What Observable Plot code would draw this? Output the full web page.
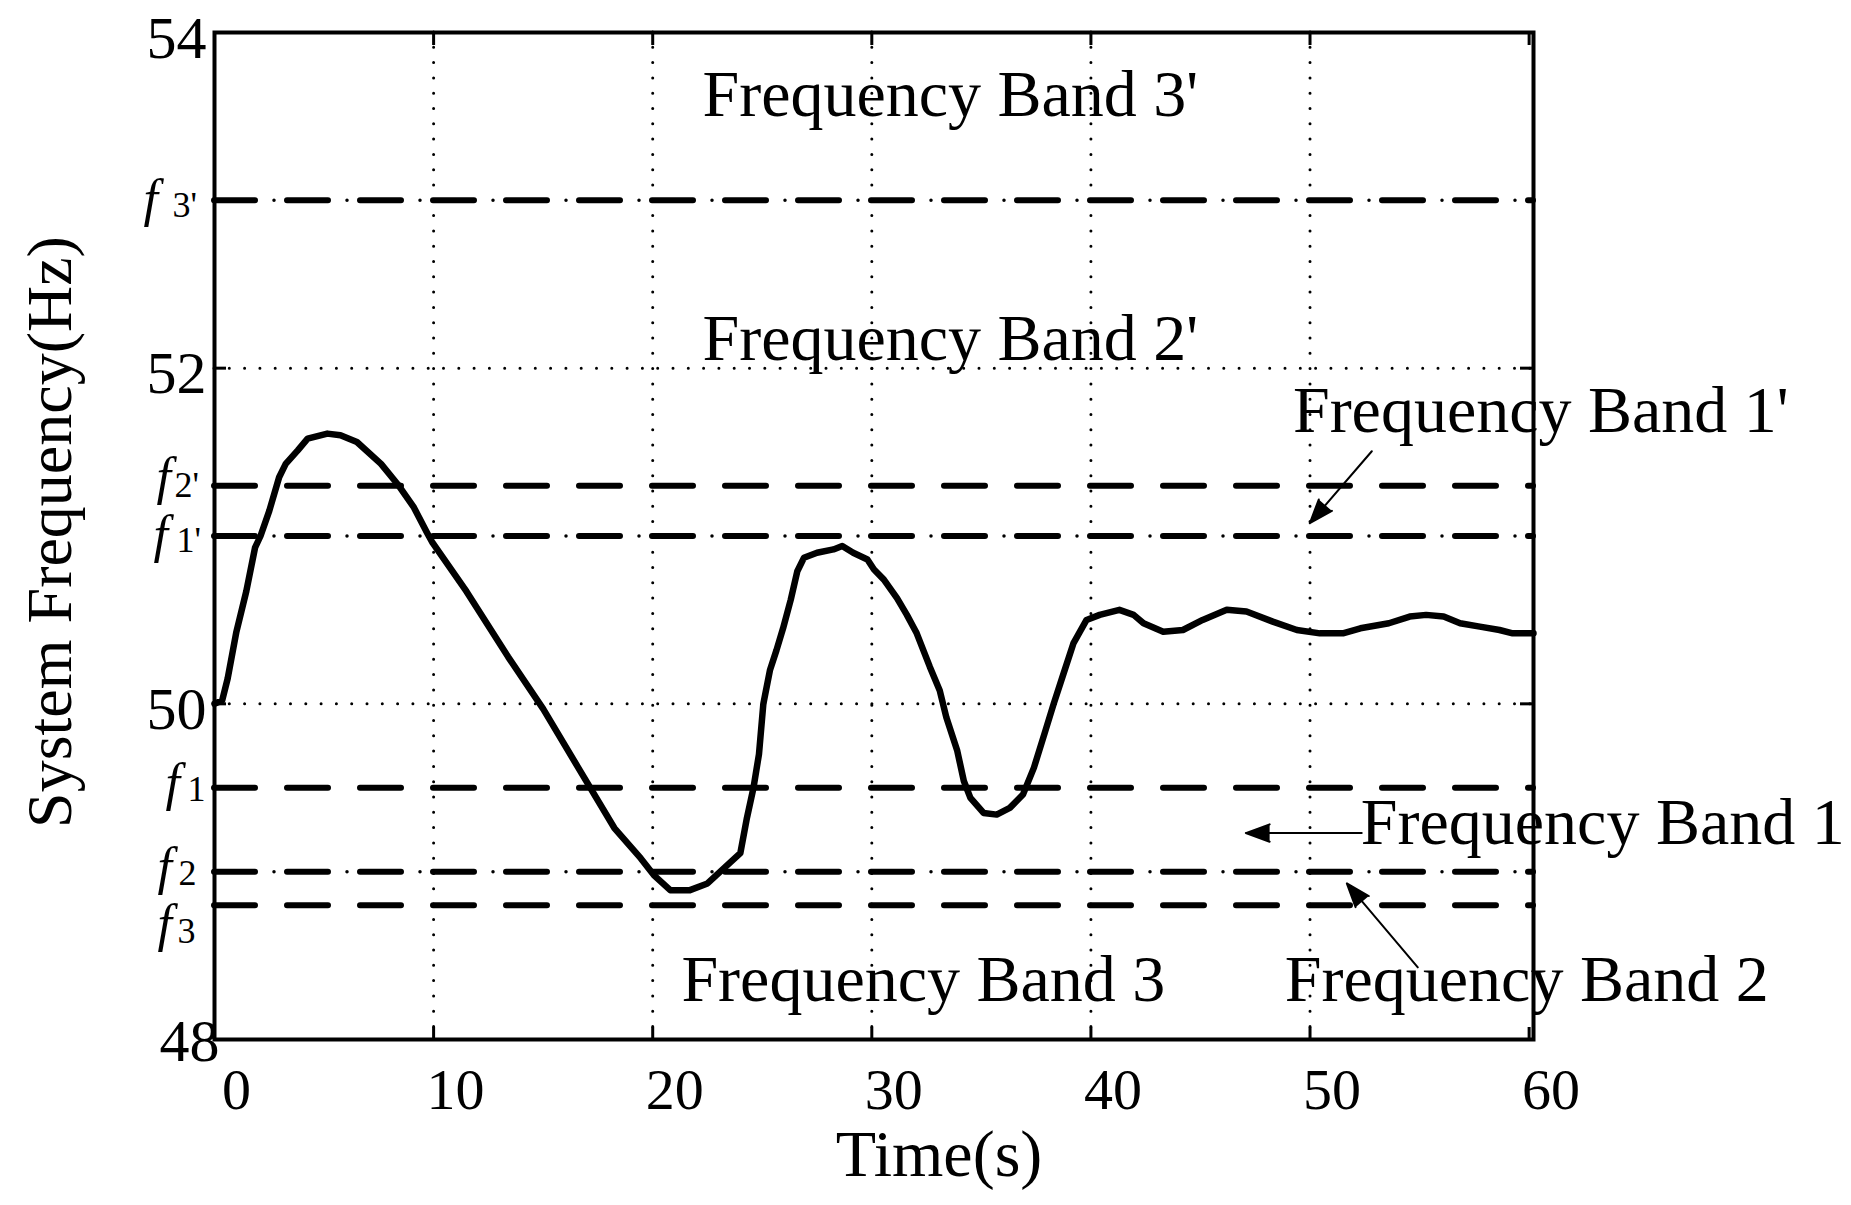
<!DOCTYPE html>
<html><head><meta charset="utf-8">
<script src="https://cdn.jsdelivr.net/npm/d3@7"></script>
<script src="https://cdn.jsdelivr.net/npm/@observablehq/plot@0.6"></script>
<style>
html,body{margin:0;padding:0;background:#fff;}
#chart{width:1851px;height:1205px;}
</style></head><body><div id="chart"></div>
<script>
// ---- data ----
const timeS = [0, 0.35, 0.6, 1.0, 1.45, 1.85, 2.1, 2.5, 2.95, 3.25, 3.8, 4.25, 5.15, 5.75, 6.5, 7.6, 8.35,
  9.1, 9.7, 9.95, 11.5, 13.4, 15.0, 16.6, 18.25, 19.45, 20.05, 20.8, 21.7, 22.5, 24.0, 24.3, 24.6, 24.85,
  25.05, 25.35, 25.65, 25.95, 26.3, 26.6, 26.9, 27.5, 28.25, 28.65, 29.15, 29.8, 30.1, 30.55, 31.15, 31.6,
  32.05, 32.65, 33.1, 33.4, 33.9, 34.2, 34.5, 35.1, 35.7, 36.3, 36.9, 37.4, 37.9, 38.3, 38.75, 39.2, 39.8,
  40.4, 41.3, 41.95, 42.4, 43.3, 44.2, 45.1, 46.2, 47.1, 48.3, 49.4, 50.45, 51.5, 52.3, 53.6, 54.55, 55.3,
  56.1, 56.85, 57.75, 58.65, 59.25, 60.2];
const freqHz = [50.0, 50.02, 50.15, 50.43, 50.67, 50.93, 51.0, 51.15, 51.35, 51.43, 51.51, 51.58, 51.61, 51.60,
  51.56, 51.43, 51.31, 51.17, 51.02, 50.96, 50.67, 50.28, 49.97, 49.62, 49.26, 49.08, 48.98, 48.89, 48.89,
  48.93, 49.11, 49.32, 49.50, 49.70, 50.0, 50.20, 50.32, 50.45, 50.62, 50.79, 50.87, 50.90, 50.92, 50.94,
  50.90, 50.86, 50.80, 50.74, 50.63, 50.53, 50.42, 50.22, 50.08, 49.92, 49.72, 49.54, 49.44, 49.35, 49.34,
  49.38, 49.46, 49.62, 49.83, 50.0, 50.18, 50.36, 50.50, 50.53, 50.56, 50.53, 50.48, 50.43, 50.44, 50.50,
  50.56, 50.55, 50.49, 50.44, 50.42, 50.42, 50.45, 50.48, 50.52, 50.53, 50.52, 50.48, 50.46, 50.44, 50.42, 50.42];

const xTicks = [0, 10, 20, 30, 40, 50, 60];
const yTicks = [48, 50, 52, 54];
const gridTimes = [10, 20, 30, 40, 50];
const gridFreqs = [50, 52];

const dashDotLevels = [53.0, 51.0, 49.0];
const dashDotNames = ["3'", "1'", "2"];
const dashedLevels = [51.3, 49.5, 48.8];
const dashedNames = ["2'", "1", "3"];

const bandLabels = ["Frequency Band 3'", "Frequency Band 2'", "Frequency Band 1'",
  "Frequency Band 1", "Frequency Band 2", "Frequency Band 3"];
const bandLabelTime = [22.27, 22.27, 49.22, 52.32, 48.85, 21.31];
const bandLabelFreq = [53.5, 52.05, 51.62, 49.165, 48.23, 48.23];

const arrowFromTime = [52.82, 52.36, 54.92];
const arrowFromFreq = [51.505, 49.23, 48.43];
const arrowToTime = [49.99, 47.07, 51.68];
const arrowToFreq = [51.076, 49.23, 48.93];

const xLabel = "Time(s)";
const yLabel = "System Frequency(Hz)";

// ---- tables ----
const curve = timeS.map((t, i) => ({t, f: freqHz[i]}));
const fLevels = [
  ...dashDotLevels.map((v, i) => ({v, name: dashDotNames[i]})),
  ...dashedLevels.map((v, i) => ({v, name: dashedNames[i]}))
];
const bands = bandLabels.map((label, i) => ({label, t: bandLabelTime[i], f: bandLabelFreq[i]}));
const arrows = arrowFromTime.map((t, i) => ({t1: t, f1: arrowFromFreq[i], t2: arrowToTime[i], f2: arrowToFreq[i]}));

// ---- styling (pixel offsets of the f-labels left of the frame) ----
const FONT = "Liberation Serif";
const fLabelOffsets = {
  "3'": {fDx: -71, fDy: 16, nDx: -42, nDy: 17},
  "2'": {fDx: -58, fDy: 8,  nDx: -40, nDy: 11},
  "1'": {fDx: -61, fDy: 16, nDx: -38, nDy: 16},
  "1":  {fDx: -49, fDy: 12, nDx: -27, nDy: 13},
  "2":  {fDx: -57, fDy: 12, nDx: -36, nDy: 13},
  "3":  {fDx: -57, fDy: 36, nDx: -37, nDy: 38}
};
const fLabelMarks = fLevels.flatMap(d => {
  const o = fLabelOffsets[d.name];
  return [
    Plot.text([d], {y: "v", text: () => "f", frameAnchor: "left", dx: o.fDx, dy: o.fDy,
      textAnchor: "start", lineAnchor: "bottom", fontSize: 52, fontStyle: "italic"}),
    Plot.text([d], {y: "v", text: "name", frameAnchor: "left", dx: o.nDx, dy: o.nDy,
      textAnchor: "start", lineAnchor: "bottom", fontSize: 36})
  ];
});

const dotted = {stroke: "black", strokeOpacity: 1, strokeWidth: 3, strokeDasharray: "0 15.3", strokeLinecap: "round"};
const noText = () => "";
const intText = d => String(d);

const chart = Plot.plot({
  width: 1851, height: 1205,
  marginLeft: 214, marginRight: 318, marginTop: 32, marginBottom: 166,
  x: {domain: [0, 60.2]},
  y: {domain: [48, 54]},
  style: {fontFamily: FONT, background: "white", color: "black", overflow: "visible"},
  marks: [
    Plot.gridX(gridTimes, dotted),
    Plot.gridY(gridFreqs, dotted),
    Plot.ruleY(dashDotLevels, {stroke: "black", strokeWidth: 6, strokeDasharray: "41 32", strokeLinecap: "round"}),
    Plot.ruleY(dashDotLevels, {stroke: "black", strokeWidth: 3.5, strokeDasharray: "0 73", strokeDashoffset: 13, strokeLinecap: "round"}),
    Plot.ruleY(dashedLevels, {stroke: "black", strokeWidth: 6, strokeDasharray: "41 32", strokeLinecap: "round"}),
    Plot.line(curve, {x: "t", y: "f", stroke: "black", strokeWidth: 6.5, strokeLinejoin: "round", strokeLinecap: "round"}),
    Plot.frame({stroke: "black", strokeWidth: 4}),
    // inward ticks
    Plot.axisX(xTicks, {anchor: "bottom", tickSize: -12, strokeWidth: 3, tickFormat: noText, label: null}),
    Plot.axisX(xTicks, {anchor: "top", tickSize: -12, strokeWidth: 3, tickFormat: noText, label: null}),
    Plot.axisY(yTicks, {anchor: "left", tickSize: -12, strokeWidth: 3, tickFormat: noText, label: null}),
    Plot.axisY(yTicks, {anchor: "right", tickSize: -14, strokeWidth: 3, tickFormat: noText, label: null}),
    // tick labels
    Plot.axisX(xTicks, {anchor: "bottom", tickSize: 0, tickPadding: 28, dx: 22, fontSize: 58, tickFormat: intText, label: null}),
    Plot.axisY(yTicks.filter(v => v !== 48), {anchor: "left", tickSize: 0, tickPadding: 8, dy: 6, fontSize: 60, tickFormat: intText, label: null}),
    Plot.axisY(yTicks.filter(v => v === 48), {anchor: "left", tickSize: 0, tickPadding: 0, dx: 5, dy: 2, fontSize: 60, tickFormat: intText, label: null}),
    // f labels
    ...fLabelMarks,
    // axis titles
    Plot.text([xLabel], {text: d => d, frameAnchor: "bottom", dx: 65, dy: 136, lineAnchor: "bottom", fontSize: 66}),
    Plot.text([yLabel], {text: d => d, frameAnchor: "left", dx: -164, dy: -4, rotate: -90, textAnchor: "middle", lineAnchor: "middle", fontSize: 64}),
    // band annotations
    Plot.text(bands, {x: "t", y: "f", text: "label", textAnchor: "start", lineAnchor: "bottom", fontSize: 66}),
    Plot.arrow(arrows, {x1: "t1", y1: "f1", x2: "t2", y2: "f2", stroke: "black", fill: "black", strokeWidth: 2, headLength: 19, headAngle: 40})
  ]
});
document.getElementById("chart").appendChild(chart);
</script>
</body></html>
